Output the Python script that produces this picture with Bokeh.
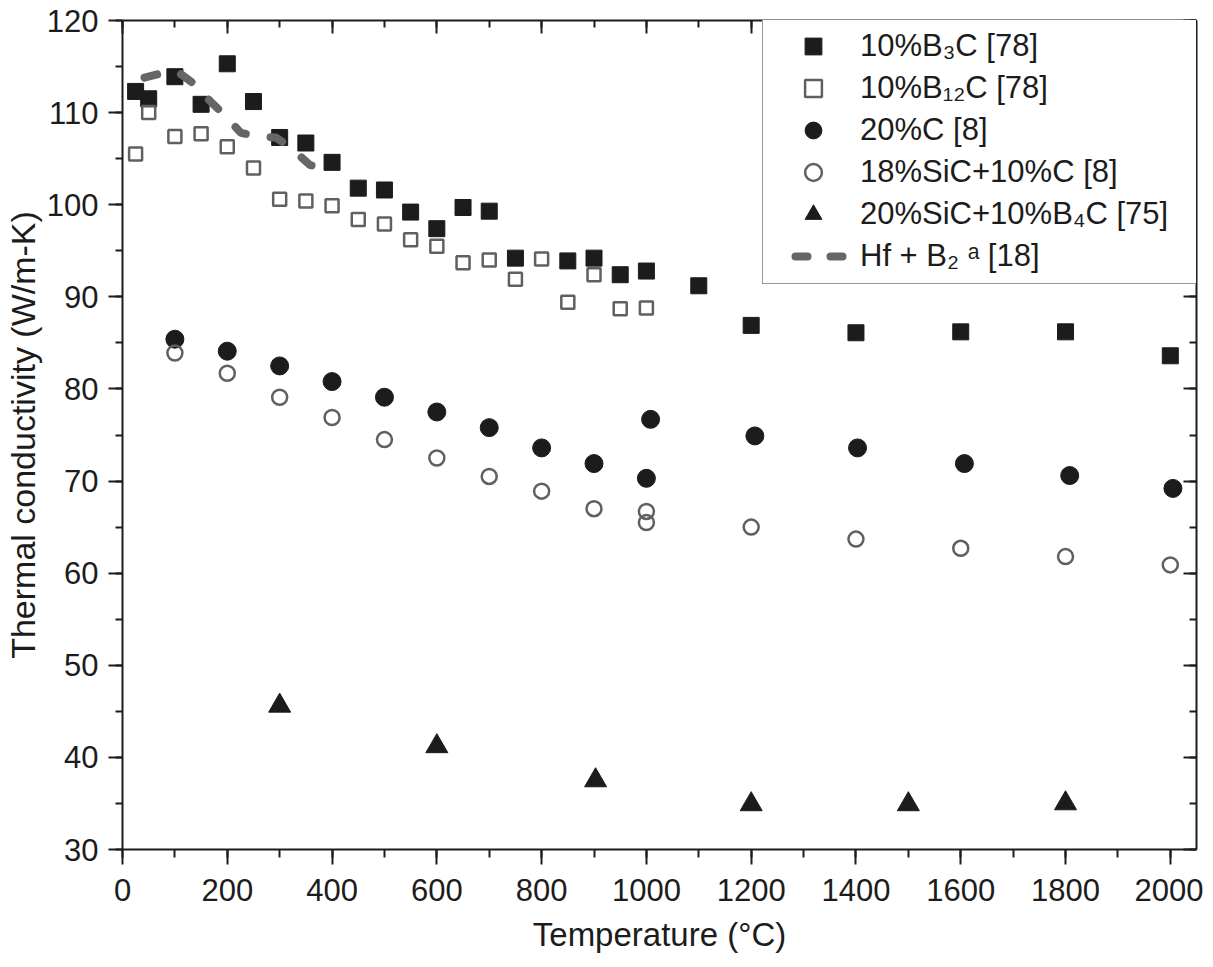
from bokeh.plotting import figure
from bokeh.models import (LinearAxis, SingleIntervalTicker, Range1d, Legend,
                          LegendItem, CustomLabelingPolicy)
from bokeh.embed import file_html
from bokeh.resources import INLINE

# ---------------- data ----------------
b3c_T = [25, 50, 100, 150, 200, 250, 300, 350, 400, 450, 500, 550, 600, 650,
         700, 750, 850, 900, 950, 1000, 1100, 1200, 1400, 1600, 1800, 2000]
b3c_k = [112.3, 111.5, 113.9, 110.9, 115.3, 111.2, 107.3, 106.7, 104.6, 101.8,
         101.6, 99.2, 97.4, 99.7, 99.3, 94.2, 93.9, 94.2, 92.4, 92.8, 91.2,
         86.9, 86.1, 86.2, 86.2, 83.6]

b12c_T = [25, 50, 100, 150, 200, 250, 300, 350, 400, 450, 500, 550, 600, 650,
          700, 750, 800, 850, 900, 950, 1000]
b12c_k = [105.5, 110.0, 107.4, 107.7, 106.3, 104.0, 100.6, 100.4, 99.9, 98.4,
          97.9, 96.2, 95.5, 93.7, 94.0, 91.9, 94.1, 89.4, 92.4, 88.7, 88.8]

c20_T = [100, 200, 300, 400, 500, 600, 700, 800, 900, 1000, 1008, 1207, 1403,
         1607, 1808, 2005]
c20_k = [85.4, 84.1, 82.5, 80.8, 79.1, 77.5, 75.8, 73.6, 71.9, 70.3, 76.7,
         74.9, 73.6, 71.9, 70.6, 69.2]

sic_c_T = [100, 200, 300, 400, 500, 600, 700, 800, 900, 1000, 1000, 1200,
           1400, 1600, 1800, 2000]
sic_c_k = [83.9, 81.7, 79.1, 76.9, 74.5, 72.5, 70.5, 68.9, 67.0, 66.7, 65.5,
           65.0, 63.7, 62.7, 61.8, 60.9]

sic_b4c_T = [300, 600, 903, 1200, 1500, 1800]
sic_b4c_k = [45.6, 41.2, 37.5, 34.9, 34.9, 35.0]

hfb2_T = [42, 70, 105, 137, 168, 197, 226, 259, 293, 323, 358, 384]
hfb2_k = [113.8, 114.2, 114.45, 113.1, 111.2, 109.6, 107.8, 107.4, 107.3,
          106.1, 104.3, 104.05]

labels = ["10%B\u2083C [78]", "10%B\u2081\u2082C [78]", "20%C [8]",
          "18%SiC+10%C [8]", "20%SiC+10%B\u2084C [75]", "Hf + B\u2082 \u1d43 [18]"]

x_ticks_interval = 200
y_ticks_interval = 10

# ---------------- styling ----------------
FONT = "Liberation Sans"
DARK = "#1c1c1c"
GRAY = "#606060"
LINE_GRAY = "#666666"

p = figure(frame_width=1074, frame_height=829,
           x_range=Range1d(0, 2050), y_range=Range1d(30, 120),
           output_backend="svg", toolbar_location=None,
           min_border_left=119, min_border_right=7,
           min_border_top=20, min_border_bottom=0,
           x_axis_label="Temperature (\u00b0C)",
           y_axis_label="Thermal conductivity (W/m-K)")
p.xgrid.visible = False
p.ygrid.visible = False
p.outline_line_color = None
p.background_fill_color = "white"
p.border_fill_color = "white"

xt = SingleIntervalTicker(interval=x_ticks_interval, num_minor_ticks=2)
yt = SingleIntervalTicker(interval=y_ticks_interval, num_minor_ticks=2)

def style_axis(ax, main, tick_len, minor_len):
    ax.axis_line_color = DARK
    ax.axis_line_width = 2
    ax.major_tick_line_color = DARK
    ax.minor_tick_line_color = DARK
    ax.major_tick_line_width = 2
    ax.minor_tick_line_width = 2
    if main:
        ax.major_tick_out = tick_len
        ax.major_tick_in = 0
        ax.minor_tick_out = minor_len
        ax.minor_tick_in = 0
        ax.major_label_text_font = FONT
        ax.major_label_text_font_size = "31px"
        ax.major_label_text_color = DARK
        ax.axis_label_text_font = FONT
        ax.axis_label_text_font_style = "normal"
        ax.axis_label_text_color = DARK
    else:
        ax.major_tick_out = 0
        ax.major_tick_in = tick_len
        ax.minor_tick_out = 0
        ax.minor_tick_in = minor_len
        ax.major_label_standoff = 0
        ax.axis_label_standoff = 0
        ax.major_label_text_font_size = "0px"
        ax.major_label_policy = CustomLabelingPolicy(code="return []")
        ax.axis_label = None

xa = p.xaxis[0]
xa.ticker = xt
style_axis(xa, True, 15, 8)
xa.major_label_standoff = 14
xa.axis_label_text_font_size = "33px"
xa.axis_label_standoff = 12

ya = p.yaxis[0]
ya.ticker = yt
style_axis(ya, True, 14, 7)
ya.major_label_standoff = 10
ya.axis_label_text_font_size = "34px"
ya.axis_label_standoff = 2

top = LinearAxis(ticker=SingleIntervalTicker(interval=x_ticks_interval, num_minor_ticks=2))
style_axis(top, False, 13, 7)
p.add_layout(top, "above")

right = LinearAxis(ticker=SingleIntervalTicker(interval=y_ticks_interval, num_minor_ticks=2))
style_axis(right, False, 13, 7)
p.add_layout(right, "right")

# ---------------- glyphs ----------------
r1 = p.scatter(b3c_T, b3c_k, marker="square", size=16,
               fill_color=DARK, line_color=DARK, line_width=1)
r2 = p.scatter(b12c_T, b12c_k, marker="square", size=13,
               fill_color=None, line_color=GRAY, line_width=2.5)
r3 = p.scatter(c20_T, c20_k, marker="circle", size=18,
               fill_color=DARK, line_color=DARK, line_width=1)
r4 = p.scatter(sic_c_T, sic_c_k, marker="circle", size=15,
               fill_color=None, line_color=GRAY, line_width=2.5)
r5 = p.scatter(sic_b4c_T, sic_b4c_k, marker="triangle", size=22,
               fill_color=DARK, line_color=DARK, line_width=1)
r6 = p.line(hfb2_T, hfb2_k, line_color=LINE_GRAY, line_width=8,
            line_dash="13 25", line_cap="round")

# hidden copy of the same series, used only to draw the two-dash legend key
r6_key = p.line(hfb2_T, hfb2_k, line_color=LINE_GRAY, line_width=8,
                line_dash="12 23 12 72", line_dash_offset=93,
                line_cap="round", visible=False)

legend = Legend(items=[LegendItem(label=l, renderers=[r])
                       for l, r in zip(labels, [r1, r2, r3, r4, r5, r6_key])],
                location=(640, 565), margin=0, padding=6, spacing=0,
                glyph_width=88, glyph_height=42, label_height=42,
                label_width=330, label_standoff=3,
                label_text_font=FONT, label_text_font_size="31px",
                label_text_color=DARK,
                border_line_color="#333333", border_line_width=1.5,
                background_fill_color="white", background_fill_alpha=1.0)
p.add_layout(legend)

open("out.html", "w").write(file_html(p, INLINE))
